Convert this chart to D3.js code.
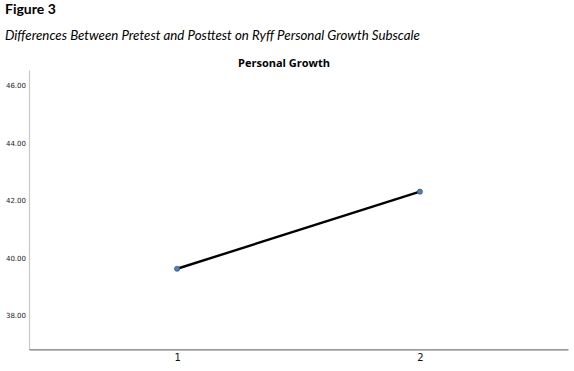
<!DOCTYPE html>
<html><head><meta charset="utf-8">
<script src="https://cdn.jsdelivr.net/npm/d3@7"></script>
<style>body{margin:0;background:#fff}svg{display:block}</style>
</head><body>
<script>
const categories = [1, 2];
const values = [39.63, 42.31];
const yTicks = [38, 40, 42, 44, 46];
const figureLabel = "Figure 3";
const caption = "Differences Between Pretest and Posttest on Ryff Personal Growth Subscale";
const chartTitle = "Personal Growth";

const W = 574, H = 371;
const svg = d3.select("body").append("svg").attr("width", W).attr("height", H);

const x = d3.scaleLinear().domain([0.39, 2.61]).range([29, 568]);
const y = d3.scaleLinear().domain([36.83, 46.54]).range([349.3, 70]);

svg.append("text").attr("x", 5).attr("y", 14)
  .style("font-family", "Lato, 'Open Sans', sans-serif").style("font-weight", "bold").style("font-size", "14px")
  .attr("fill", "#000").text(figureLabel);
svg.append("text").attr("x", 5).attr("y", 40)
  .style("font-family", "Lato, 'Open Sans', sans-serif").style("font-style", "italic").style("font-size", "13.3px")
  .attr("fill", "#000").text(caption);
svg.append("text").attr("x", 284).attr("y", 67).attr("text-anchor", "middle")
  .style("font-family", "'Open Sans', sans-serif").style("font-weight", "bold").style("font-size", "11px")
  .attr("fill", "#000").text(chartTitle);

// y axis
const yAxis = d3.axisLeft(y).tickValues(yTicks).tickSize(0).tickPadding(3).tickFormat(d3.format(".2f"));
const gy = svg.append("g").attr("transform", "translate(29,0)").call(yAxis);
gy.select(".domain").attr("stroke", "#c8c8c8").attr("stroke-width", 1.2);
gy.selectAll("text").style("font-family", "'DejaVu Sans', sans-serif").style("font-size", "7px").attr("fill", "#222");

// x axis
const xAxis = d3.axisBottom(x).tickValues(categories).tickSize(0).tickPadding(5).tickFormat(d3.format("d"));
const gx = svg.append("g").attr("transform", "translate(0,349.3)").call(xAxis);
gx.select(".domain").attr("stroke", "#777").attr("stroke-width", 1.2);
gx.selectAll("text").style("font-family", "'DejaVu Sans', sans-serif").style("font-size", "10px").attr("fill", "#111");

const pts = categories.map((c, i) => [c, values[i]]);
svg.append("path").datum(pts)
  .attr("d", d3.line().x(d => x(d[0])).y(d => y(d[1])))
  .attr("fill", "none").attr("stroke", "#000").attr("stroke-width", 2.4);
svg.selectAll("circle.pt").data(pts).join("circle").attr("class", "pt")
  .attr("cx", d => x(d[0])).attr("cy", d => y(d[1])).attr("r", 2.6)
  .attr("fill", "#4f7fb8").attr("stroke", "#2a4a70").attr("stroke-width", 0.6);
</script>
</body></html>
